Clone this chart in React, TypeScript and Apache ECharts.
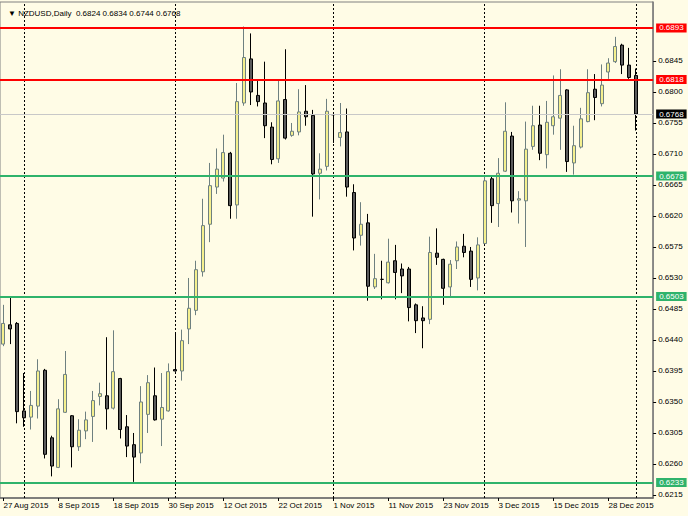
import React, { useEffect, useRef } from 'react';
import * as echarts from 'echarts';

const symbolName = 'NZDUSD,Daily';

const dates = [
  '27 Aug 2015', '28 Aug 2015', '31 Aug 2015', '1 Sep 2015', '2 Sep 2015', '3 Sep 2015', '4 Sep 2015', '7 Sep 2015', '8 Sep 2015', '9 Sep 2015',
  '10 Sep 2015', '11 Sep 2015', '14 Sep 2015', '15 Sep 2015', '16 Sep 2015', '17 Sep 2015', '18 Sep 2015', '21 Sep 2015', '22 Sep 2015', '23 Sep 2015',
  '24 Sep 2015', '25 Sep 2015', '28 Sep 2015', '29 Sep 2015', '30 Sep 2015', '1 Oct 2015', '2 Oct 2015', '5 Oct 2015', '6 Oct 2015', '7 Oct 2015',
  '8 Oct 2015', '9 Oct 2015', '12 Oct 2015', '13 Oct 2015', '14 Oct 2015', '15 Oct 2015', '16 Oct 2015', '19 Oct 2015', '20 Oct 2015', '21 Oct 2015',
  '22 Oct 2015', '23 Oct 2015', '25 Oct 2015', '26 Oct 2015', '27 Oct 2015', '28 Oct 2015', '29 Oct 2015', '30 Oct 2015', '1 Nov 2015', '2 Nov 2015',
  '3 Nov 2015', '4 Nov 2015', '5 Nov 2015', '6 Nov 2015', '9 Nov 2015', '10 Nov 2015', '11 Nov 2015', '12 Nov 2015', '13 Nov 2015', '16 Nov 2015',
  '17 Nov 2015', '18 Nov 2015', '19 Nov 2015', '20 Nov 2015', '23 Nov 2015', '24 Nov 2015', '25 Nov 2015', '26 Nov 2015', '27 Nov 2015', '30 Nov 2015',
  '1 Dec 2015', '2 Dec 2015', '3 Dec 2015', '4 Dec 2015', '7 Dec 2015', '8 Dec 2015', '9 Dec 2015', '10 Dec 2015', '11 Dec 2015', '14 Dec 2015',
  '15 Dec 2015', '16 Dec 2015', '17 Dec 2015', '18 Dec 2015', '21 Dec 2015', '22 Dec 2015', '23 Dec 2015', '24 Dec 2015', '28 Dec 2015', '29 Dec 2015',
  '30 Dec 2015', '31 Dec 2015', '4 Jan 2016',
];

const openP = [
  0.6434, 0.6462, 0.6464, 0.6337, 0.6328, 0.6344, 0.6396, 0.6298, 0.6255, 0.6335,
  0.6330, 0.6285, 0.6308, 0.6329, 0.6358, 0.6359, 0.6341, 0.6384, 0.6314, 0.6288,
  0.6276, 0.6332, 0.6359, 0.6325, 0.6337, 0.6397, 0.6395, 0.6456, 0.6483, 0.6539,
  0.6608, 0.6662, 0.6675, 0.6711, 0.6636, 0.6784, 0.6848, 0.6795, 0.6784, 0.6749,
  0.6703, 0.6789, 0.6737, 0.6742, 0.6772, 0.6766, 0.6682, 0.6692, 0.6767, 0.6734,
  0.6742, 0.6654, 0.6592, 0.6610, 0.6517, 0.6528, 0.6523, 0.6555, 0.6543, 0.6543,
  0.6491, 0.6472, 0.6470, 0.6566, 0.6557, 0.6517, 0.6555, 0.6576, 0.6569, 0.6530,
  0.6580, 0.6674, 0.6638, 0.6685, 0.6736, 0.6643, 0.6642, 0.6721, 0.6752, 0.6709,
  0.6751, 0.6762, 0.6803, 0.6697, 0.6720, 0.6757, 0.6804, 0.6783, 0.6829, 0.6844,
  0.6868, 0.6839, 0.6824,
];

const closeP = [
  0.6464, 0.6456, 0.6336, 0.6327, 0.6345, 0.6395, 0.6274, 0.6257, 0.6340, 0.6390,
  0.6285, 0.6309, 0.6324, 0.6352, 0.6362, 0.6340, 0.6394, 0.6310, 0.6286, 0.6270,
  0.6350, 0.6378, 0.6324, 0.6342, 0.6394, 0.6395, 0.6439, 0.6486, 0.6542, 0.6606,
  0.6664, 0.6688, 0.6712, 0.6635, 0.6786, 0.6850, 0.6800, 0.6786, 0.6751, 0.6702,
  0.6787, 0.6733, 0.6743, 0.6771, 0.6764, 0.6681, 0.6688, 0.6772, 0.6767, 0.6741,
  0.6662, 0.6588, 0.6608, 0.6518, 0.6529, 0.6528, 0.6553, 0.6538, 0.6533, 0.6487,
  0.6468, 0.6468, 0.6567, 0.6560, 0.6515, 0.6550, 0.6575, 0.6567, 0.6528, 0.6578,
  0.6671, 0.6635, 0.6682, 0.6743, 0.6642, 0.6645, 0.6717, 0.6751, 0.6711, 0.6756,
  0.6764, 0.6795, 0.6699, 0.6722, 0.6761, 0.6799, 0.6792, 0.6810, 0.6842, 0.6866,
  0.6839, 0.6821, 0.6768,
];

const lowP = [
  0.6431, 0.6434, 0.6319, 0.6314, 0.6310, 0.6326, 0.6268, 0.6242, 0.6254, 0.6334,
  0.6255, 0.6279, 0.6296, 0.6292, 0.6345, 0.6310, 0.6339, 0.6297, 0.6270, 0.6234,
  0.6261, 0.6305, 0.6323, 0.6286, 0.6336, 0.6394, 0.6381, 0.6434, 0.6476, 0.6532,
  0.6582, 0.6652, 0.6670, 0.6616, 0.6616, 0.6780, 0.6781, 0.6779, 0.6733, 0.6695,
  0.6697, 0.6731, 0.6735, 0.6737, 0.6751, 0.6619, 0.6644, 0.6686, 0.6726, 0.6721,
  0.6648, 0.6570, 0.6577, 0.6497, 0.6514, 0.6499, 0.6522, 0.6499, 0.6508, 0.6467,
  0.6450, 0.6428, 0.6463, 0.6549, 0.6491, 0.6501, 0.6543, 0.6560, 0.6517, 0.6512,
  0.6579, 0.6610, 0.6604, 0.6684, 0.6625, 0.6609, 0.6575, 0.6716, 0.6701, 0.6689,
  0.6738, 0.6716, 0.6684, 0.6680, 0.6718, 0.6756, 0.6759, 0.6779, 0.6819, 0.6842,
  0.6826, 0.6819, 0.6744,
];

const highP = [
  0.6491, 0.6503, 0.6466, 0.6392, 0.6366, 0.6412, 0.6398, 0.6301, 0.6354, 0.6424,
  0.6331, 0.6325, 0.6336, 0.6366, 0.6378, 0.6444, 0.6454, 0.6385, 0.6331, 0.6305,
  0.6373, 0.6389, 0.6400, 0.6392, 0.6406, 0.6451, 0.6455, 0.6530, 0.6555, 0.6645,
  0.6697, 0.6718, 0.6738, 0.6713, 0.6813, 0.6895, 0.6885, 0.6817, 0.6844, 0.6756,
  0.6817, 0.6862, 0.6755, 0.6804, 0.6810, 0.6774, 0.6711, 0.6790, 0.6767, 0.6784,
  0.6776, 0.6666, 0.6640, 0.6623, 0.6565, 0.6555, 0.6587, 0.6578, 0.6551, 0.6546,
  0.6493, 0.6489, 0.6590, 0.6602, 0.6558, 0.6556, 0.6583, 0.6594, 0.6575, 0.6589,
  0.6678, 0.6678, 0.6704, 0.6785, 0.6742, 0.6656, 0.6757, 0.6780, 0.6780, 0.6787,
  0.6824, 0.6833, 0.6804, 0.6751, 0.6777, 0.6833, 0.6826, 0.6840, 0.6849, 0.6880,
  0.6870, 0.6864, 0.6834,
];

const yTickLabels = [
  0.6215, 0.626, 0.6305, 0.635, 0.6395, 0.644, 0.6485, 0.653, 0.6575, 0.662,
  0.6665, 0.671, 0.6755, 0.68, 0.6845,
];

const redLevels = [0.6893, 0.6818];
const greenLevels = [0.6678, 0.6503, 0.6233];
const bidLevel = 0.6768;
const monthStarts = ['1 Sep 2015', '1 Oct 2015', '1 Nov 2015', '1 Dec 2015', '4 Jan 2016'];

const FONT = '"Liberation Sans", Arial, sans-serif';
const BG = '#FFFCE6';
const RED = '#FF0000';
const GREEN = '#2FB36B';

function levelLine(value: number, color: string, width: number, labelBg: string) {
  return {
    yAxis: value,
    lineStyle: { color, width, type: 'solid' },
    label: {
      show: true,
      position: 'end',
      distance: 3,
      formatter: () => value.toFixed(4),
      backgroundColor: labelBg,
      color: '#FFFFFF',
      fontSize: 8,
      fontFamily: FONT,
      padding: [1, 3, 0, 3],
    },
  };
}

export default function App() {
  const ref = useRef<HTMLDivElement>(null);

  useEffect(() => {
    if (!ref.current) return;
    const chart = echarts.init(ref.current, null, { renderer: 'svg' });
    const last = dates.length - 1;
    const header = `\u25BC ${symbolName}  ${openP[last].toFixed(4)} ${highP[last].toFixed(4)} ${lowP[last].toFixed(4)} ${closeP[last].toFixed(4)}`;
    const candles = dates.map((_, i) => [openP[i], closeP[i], lowP[i], highP[i]]);

    const separatorData: any[] = monthStarts.map((d) => ({ xAxis: d }));
    const levelData: any[] = [
      levelLine(bidLevel, '#C8C8C8', 1, '#000000'),
      ...greenLevels.map((v) => levelLine(v, GREEN, 2, GREEN)),
      ...redLevels.map((v) => levelLine(v, RED, 2, RED)),
    ];

    chart.setOption({
      animation: false,
      backgroundColor: BG,
      textStyle: { fontFamily: FONT },
      title: {
        text: header,
        left: 3,
        top: 4,
        textStyle: { fontSize: 8, fontWeight: 'normal', color: '#000', fontFamily: FONT },
      },
      grid: {
        left: 0,
        right: 34.875,
        top: 2,
        bottom: 18,
        show: true,
        borderColor: '#808080',
        borderWidth: 1,
        backgroundColor: 'transparent',
        containLabel: false,
        outerBoundsMode: 'none',
      },
      xAxis: {
        type: 'category',
        data: [...dates, '', ''],
        boundaryGap: true,
        axisLine: { show: true, lineStyle: { color: '#6A6A6A', width: 1.5 } },
        axisTick: { show: true, interval: 7, alignWithLabel: true, length: 3, lineStyle: { color: '#000' } },
        axisLabel: { interval: 7, align: 'left', margin: 3, fontSize: 8, color: '#000', fontFamily: FONT },
        splitLine: { show: false },
      },
      yAxis: {
        type: 'value',
        position: 'right',
        min: 0.62106,
        max: 0.69306,
        axisLine: { show: true, lineStyle: { color: '#7A7A7A', width: 1.5 } },
        axisTick: { show: true, length: 3, customValues: yTickLabels, lineStyle: { color: '#000' } },
        axisLabel: {
          customValues: yTickLabels,
          formatter: (v: number) => v.toFixed(4),
          margin: 5,
          fontSize: 8,
          color: '#000',
          fontFamily: FONT,
        },
        splitLine: { show: false },
      },
      series: [
        {
          type: 'line',
          data: [],
          z: 1,
          silent: true,
          markLine: {
            z: 1,
            silent: true,
            precision: 4,
            symbol: ['none', 'none'],
            animation: false,
            lineStyle: { color: '#000000', width: 1, type: [2, 2] },
            label: { show: false },
            data: separatorData,
          },
        },
        {
          type: 'candlestick',
          z: 3,
          data: candles,
          barWidth: 3.5,
          itemStyle: {
            color: '#F5F08E',
            color0: '#5A5A5A',
            borderColor: '#6E8080',
            borderColor0: '#000000',
            borderWidth: 1,
          },
          markLine: {
            z: 5,
            silent: true,
            precision: 4,
            symbol: ['none', 'none'],
            animation: false,
            data: levelData,
          },
        },
      ],
    });

    return () => chart.dispose();
  }, []);

  return (
    <div
      ref={ref}
      style={{ position: 'fixed', left: 0, top: 0, width: 688, height: 516, background: BG }}
    />
  );
}
